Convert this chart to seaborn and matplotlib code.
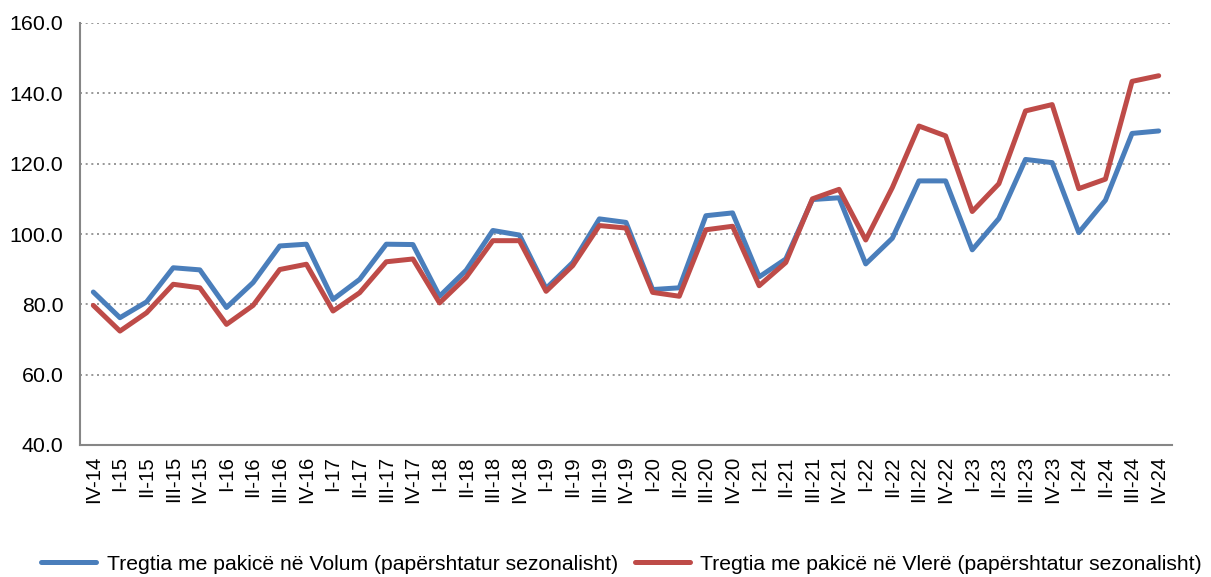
import pandas as pd
import matplotlib
matplotlib.use('Agg')
import matplotlib.pyplot as plt
import seaborn as sns

quarters = ['IV-14',
            'I-15', 'II-15', 'III-15', 'IV-15',
            'I-16', 'II-16', 'III-16', 'IV-16',
            'I-17', 'II-17', 'III-17', 'IV-17',
            'I-18', 'II-18', 'III-18', 'IV-18',
            'I-19', 'II-19', 'III-19', 'IV-19',
            'I-20', 'II-20', 'III-20', 'IV-20',
            'I-21', 'II-21', 'III-21', 'IV-21',
            'I-22', 'II-22', 'III-22', 'IV-22',
            'I-23', 'II-23', 'III-23', 'IV-23',
            'I-24', 'II-24', 'III-24', 'IV-24']

volume = [83.5,
          76.2, 80.7, 90.4, 89.8,
          79.1, 86.2, 96.6, 97.1,
          81.4, 87.1, 97.1, 97.0,
          82.3, 89.7, 101.0, 99.7,
          84.5, 91.9, 104.3, 103.3,
          84.2, 84.7, 105.2, 106.0,
          87.8, 92.9, 109.8, 110.3,
          91.5, 98.8, 115.1, 115.1,
          95.5, 104.4, 121.2, 120.3,
          100.4, 109.6, 128.6, 129.3]

value = [79.7,
         72.4, 77.6, 85.7, 84.7,
         74.3, 79.7, 89.9, 91.4,
         78.1, 83.3, 92.1, 92.9,
         80.4, 87.7, 98.1, 98.1,
         83.7, 91.0, 102.4, 101.7,
         83.4, 82.3, 101.2, 102.2,
         85.3, 91.9, 110.0, 112.7,
         98.3, 113.2, 130.7, 127.9,
         106.4, 114.3, 135.0, 136.8,
         112.9, 115.6, 143.4, 145.0]

series_names = ['Tregtia me pakicë në Volum (papërshtatur sezonalisht)',
                'Tregtia me pakicë në Vlerë (papërshtatur sezonalisht)']

df = pd.DataFrame({
    'quarter': quarters * 2,
    'index': volume + value,
    'series': [series_names[0]] * len(quarters) + [series_names[1]] * len(quarters),
})

sns.set_style('white')
plt.rcParams['font.family'] = ['Liberation Sans', 'DejaVu Sans']
plt.rcParams['text.color'] = 'black'
plt.rcParams['xtick.color'] = 'black'
plt.rcParams['ytick.color'] = 'black'

fig = plt.figure(figsize=(12.11, 5.77), dpi=100)
ax = fig.add_axes([80 / 1211, 1 - 445 / 577, (1172 - 80) / 1211, (445 - 23) / 577])

sns.lineplot(data=df, x='quarter', y='index', hue='series', sort=False,
             palette=['#4A7EBB', '#BE4B48'], linewidth=3.6, ax=ax)

ax.set_xlim(-0.5, len(quarters) - 0.5)
ax.set_ylim(40, 160)
ax.set_yticks(range(40, 161, 20))
ax.set_yticklabels([f'{v:.1f}' for v in range(40, 161, 20)], fontsize=15.4)
ax.set_xticks(range(len(quarters)))
ax.set_xticklabels(quarters, rotation=90, fontsize=14.6)
ax.set_xticks([i - 0.5 for i in range(len(quarters) + 1)], minor=True)
ax.tick_params(axis='x', which='major', length=0, pad=8)
ax.tick_params(axis='x', which='minor', length=5, color='#868686', width=1.5, direction='out')
ax.tick_params(axis='y', length=5, color='#868686', width=1.5, direction='out', pad=7)
ax.set_xlabel('')
ax.set_ylabel('')

ax.grid(axis='y', linestyle=(0, (1.2, 2.2)), color='#868686', linewidth=1.2)
for side in ['top', 'right']:
    ax.spines[side].set_visible(False)
for side in ['left', 'bottom']:
    ax.spines[side].set_color('#868686')
    ax.spines[side].set_linewidth(1.5)

handles, labels = ax.get_legend_handles_labels()
ax.legend(handles, labels, loc='lower center', bbox_to_anchor=(0.496, -0.34),
          ncol=2, frameon=False, fontsize=15.2, handlelength=2.6, columnspacing=0.8,
          handletextpad=0.5, borderpad=0.2)

fig.savefig('out.png', dpi=100)
